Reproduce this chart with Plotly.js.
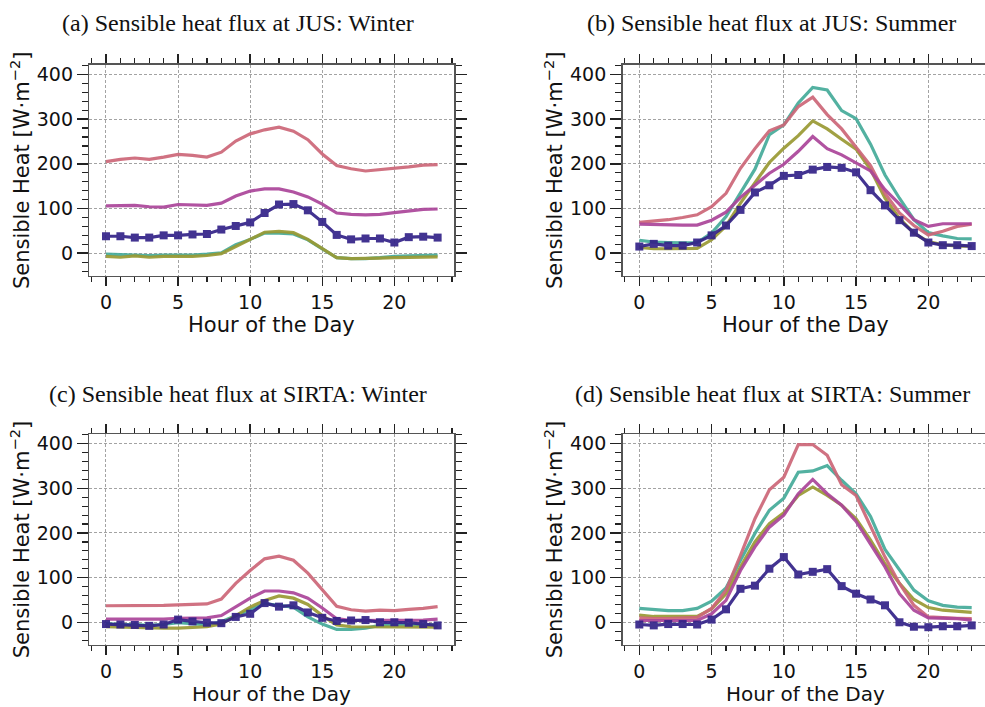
<!DOCTYPE html>
<html>
<head>
<meta charset="utf-8">
<script src="https://cdn.plot.ly/plotly-3.0.1.min.js"></script>
<style>html,body{margin:0;padding:0;background:#fff}#chart{width:985px;height:707px}</style>
</head>
<body>
<div id="chart"></div>
<script>
// ---------- DATA ----------
const hours = [0,1,2,3,4,5,6,7,8,9,10,11,12,13,14,15,16,17,18,19,20,21,22,23];
const xTicks = [0,5,10,15,20];
const yTicks = [0,100,200,300,400];

const panelTitles = [
  "(a) Sensible heat flux at JUS: Winter",
  "(b) Sensible heat flux at JUS: Summer",
  "(c) Sensible heat flux at SIRTA: Winter",
  "(d) Sensible heat flux at SIRTA: Summer"
];
const xTitle = "Hour of the Day";
const yTitle = "Sensible Heat [W·m<sup>−2</sup>]";

// (a) JUS winter
const jusWinterTeal    = [-2,-3,-3,-5,-4,-4,-4,-2,1,19,31,45,45,43,30,10,-10,-12,-12,-10,-7,-6,-5,-4];
const jusWinterOlive   = [-7,-9,-6,-9,-7,-7,-7,-5,-1,15,32,47,49,46,31,10,-10,-12,-12,-11,-10,-9,-8,-8];
const jusWinterRose    = [205,210,213,210,215,221,219,215,226,251,267,276,282,273,254,222,196,189,184,187,189,193,197,198];
const jusWinterMagenta = [106,107,107,104,103,109,108,107,112,128,139,144,144,137,126,110,90,87,86,87,91,94,98,99];
const jusWinterIndigo  = [38,38,35,35,40,40,42,43,53,61,69,90,109,110,96,70,41,31,33,33,24,36,37,35];

// (b) JUS summer
const jusSummerTeal    = [29,25,24,23,24,45,82,136,188,265,287,336,371,365,319,301,244,175,123,75,46,39,33,32];
const jusSummerOlive   = [13,10,10,10,11,30,61,112,158,203,235,263,296,278,255,233,187,123,78,45,26,19,16,16];
const jusSummerRose    = [69,72,75,80,86,104,134,190,234,274,287,328,349,310,278,237,196,134,90,62,41,49,60,65];
const jusSummerMagenta = [65,64,63,63,63,74,92,125,152,179,199,228,261,234,220,203,184,142,110,75,60,66,66,66];
const jusSummerIndigo  = [15,21,17,17,24,40,62,97,136,152,173,175,187,193,191,181,141,107,74,46,24,18,18,16];

// (c) SIRTA winter
const sirtaWinterTeal    = [-3,-5,-5,-7,-5,-1,-3,-6,1,15,28,42,38,34,12,-4,-16,-16,-13,-7,-6,-6,-6,-6];
const sirtaWinterOlive   = [-10,-11,-11,-12,-13,-13,-11,-10,-4,15,34,49,59,54,40,15,-6,-10,-10,-10,-10,-10,-10,-11];
const sirtaWinterRose    = [37,37,37,37,38,39,40,41,52,87,116,142,148,139,110,74,36,28,25,27,26,29,31,35];
const sirtaWinterMagenta = [7,7,7,7,7,9,9,10,15,34,54,70,70,66,54,32,8,4,4,4,4,4,5,7];
const sirtaWinterIndigo  = [-4,-5,-6,-8,-5,6,2,-1,-2,12,19,43,35,38,22,10,3,4,5,0,0,-1,-4,-7];

// (d) SIRTA summer
const sirtaSummerTeal    = [31,28,26,26,31,47,77,139,199,251,278,336,339,351,318,288,237,163,116,72,48,38,34,33];
const sirtaSummerOlive   = [16,13,13,13,13,30,64,124,180,221,245,284,303,284,262,232,184,131,87,51,33,27,24,22];
const sirtaSummerRose    = [10,8,8,9,11,31,72,150,232,297,325,398,398,374,308,284,213,146,87,38,12,10,9,8];
const sirtaSummerMagenta = [4,4,4,4,4,19,49,116,169,213,240,288,320,288,262,226,176,124,64,27,10,9,8,5];
const sirtaSummerIndigo  = [-5,-7,-4,-4,-5,6,29,75,82,120,146,107,113,119,81,64,51,38,0,-10,-11,-9,-9,-7];

const seriesColors = ["#44AA99","#999933","#CC6677","#AA4499","#332288"];
const seriesNames  = ["Teal","Olive","Rose","Magenta","Indigo"];

const panels = [
  [jusWinterTeal, jusWinterOlive, jusWinterRose, jusWinterMagenta, jusWinterIndigo],
  [jusSummerTeal, jusSummerOlive, jusSummerRose, jusSummerMagenta, jusSummerIndigo],
  [sirtaWinterTeal, sirtaWinterOlive, sirtaWinterRose, sirtaWinterMagenta, sirtaWinterIndigo],
  [sirtaSummerTeal, sirtaSummerOlive, sirtaSummerRose, sirtaSummerMagenta, sirtaSummerIndigo]
];

// ---------- LAYOUT GEOMETRY ----------
const W = 985, H = 707;
const xDomains = [[89.4/W, 454.2/W],[622.7/W, 1],[89.4/W, 454.2/W],[622.7/W, 1]];
const xRanges  = [[-1.15, 24.15],[-1.15, 23.92],[-1.15, 24.15],[-1.15, 23.92]];
const yDomains = [[1-275.6/H, 1-65/H],[1-275.6/H, 1-65/H],[1-644.6/H, 1-434.3/H],[1-644.6/H, 1-434.3/H]];
const yRange = [-50, 421];
const titlePos = [[238,23],[771,23],[237.5,394],[772,394]];
// [x centre, y, vertical anchor]
const xTitlePos = [[271.8,325,"middle"],[805.4,325,"middle"],[271.8,707,"bottom"],[805.4,707,"bottom"]];

const traces = [];
panels.forEach((series, p) => {
  const sfx = p === 0 ? "" : String(p+1);
  series.forEach((vals, s) => {
    const isIndigo = s === 4;
    const tr = {
      x: hours, y: vals, type: "scatter",
      mode: isIndigo ? "lines+markers" : "lines",
      name: seriesNames[s],
      xaxis: "x"+sfx, yaxis: "y"+sfx,
      line: {color: seriesColors[s], width: 3.2},
      opacity: 0.92,
      showlegend: false,
      hoverinfo: "x+y"
    };
    if (isIndigo) tr.marker = {symbol: "square", size: 8, color: seriesColors[s]};
    traces.push(tr);
  });
});

const tickFont = {family: "DejaVu Sans", size: 19, color: "#111"};
const labFont  = {family: "DejaVu Sans", size: 21, color: "#111"};
const labFontBottom = {family: "DejaVu Sans", size: 20, color: "#111"};

const layout = {
  width: W, height: H,
  margin: {l:0, r:0, t:0, b:0},
  paper_bgcolor: "#fff", plot_bgcolor: "#fff",
  showlegend: false,
  annotations: []
};

for (let p = 0; p < 4; p++) {
  const sfx = p === 0 ? "" : String(p+1);
  const fullRight = (p === 0 || p === 2);
  layout["xaxis"+sfx] = {
    domain: xDomains[p], range: xRanges[p], anchor: "y"+sfx,
    tickmode: "array", tickvals: xTicks, ticktext: xTicks.map(String),
    ticks: "outside", ticklen: 9, tickwidth: 1.5, tickcolor: "#222",
    minor: {ticks: "outside", dtick: 1, tick0: 0, ticklen: 5, tickwidth: 1.2, tickcolor: "#222", showgrid: false},
    showline: true, linecolor: "#555", linewidth: 1.6, mirror: "ticks",
    showgrid: true, gridcolor: "#999", gridwidth: 0.9, griddash: "3px,2px",
    zeroline: false, tickfont: tickFont, automargin: false
  };
  layout["yaxis"+sfx] = {
    domain: yDomains[p], range: yRange, anchor: "x"+sfx,
    tickmode: "array", tickvals: yTicks, ticktext: yTicks.map(String),
    ticks: "outside", ticklen: 11, tickwidth: 1.5, tickcolor: "#222",
    minor: {ticks: "outside", dtick: 20, tick0: 0, ticklen: 6, tickwidth: 1.2, tickcolor: "#222", showgrid: false},
    showline: true, linecolor: "#555", linewidth: 1.6, mirror: fullRight ? "ticks" : false,
    showgrid: true, gridcolor: "#999", gridwidth: 0.9, griddash: "3px,2px",
    zeroline: false, tickfont: tickFont, automargin: false,
    title: {text: yTitle, font: labFont, standoff: 1}
  };
  layout.annotations.push({
    text: panelTitles[p], xref: "paper", yref: "paper",
    x: titlePos[p][0]/W, y: 1 - titlePos[p][1]/H,
    xanchor: "center", yanchor: "middle", showarrow: false,
    font: {family: "Liberation Serif", size: 24, color: "#111"}
  });
  layout.annotations.push({
    text: xTitle, xref: "paper", yref: "paper",
    x: xTitlePos[p][0]/W, y: 1 - xTitlePos[p][1]/H,
    xanchor: "center", yanchor: xTitlePos[p][2], showarrow: false, borderpad: 0,
    font: p < 2 ? labFont : labFontBottom
  });
}

Plotly.newPlot("chart", traces, layout, {displayModeBar: false, staticPlot: true});
</script>
</body>
</html>
